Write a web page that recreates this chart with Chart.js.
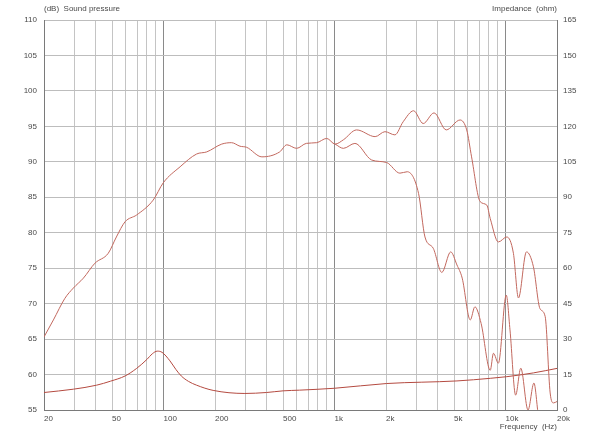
<!DOCTYPE html>
<html>
<head>
<meta charset="utf-8">
<script src="https://cdn.jsdelivr.net/npm/chart.js@4"></script>
<style>
  html, body { margin: 0; padding: 0; background: #fff; }
  #wrap { width: 600px; height: 433px; }
</style>
</head>
<body>
<div id="wrap"><canvas id="chart" width="600" height="433"></canvas></div>
<script>
// frequency ticks (grid) and the ones that get a label
const freqTicks = [20, 30, 40, 50, 60, 70, 80, 90, 100, 200, 300, 400, 500, 600, 700, 800, 900,
  1000, 2000, 3000, 4000, 5000, 6000, 7000, 8000, 9000, 10000, 20000];
const freqLabels = { 20: "20", 50: "50", 100: "100", 200: "200", 500: "500", 1000: "1k",
  2000: "2k", 5000: "5k", 10000: "10k", 20000: "20k" };
const decadeLines = [100, 1000, 10000];

// on-axis sound pressure (dB)
const freqA = [20, 22.7, 26.5, 29.7, 34, 39.7, 47.5, 53, 59.6, 69.6, 87, 99.7, 125, 156, 179, 219, 250,
  280, 306, 376, 478, 526, 600, 684, 786, 900, 1008, 1126, 1346, 1728, 1972, 2254, 2520, 2900, 3300,
  3820, 4500, 5420, 5930, 6330, 7100, 7770, 8140, 9080, 10180, 11120, 11900, 13260, 14560, 15900,
  17050, 18240, 19100, 20000];
const splA = [65.3, 67.7, 70.75, 72.2, 73.6, 75.7, 77.1, 79.4, 81.55, 82.5, 84.6, 87.05, 89.3, 91.1, 91.4,
  92.5, 92.7, 92.2, 92.05, 90.7, 91.4, 92.4, 91.9, 92.6, 92.7, 93.3, 92.5, 93.1, 94.5, 93.55, 94.25,
  93.8, 95.65, 97.2, 95.4, 96.9, 94.5, 95.9, 94.5, 90.7, 84.4, 83.9, 82.0, 78.7, 79.4, 77.1, 70.8,
  77.3, 75.2, 69.3, 68.2, 57.4, 56.0, 56.2];

// off-axis sound pressure (dB), splits from the on-axis curve near 1 kHz
const freqB = [1008, 1126, 1316, 1650, 2018, 2412, 2660, 3100, 3380, 3780, 4240, 4780, 5200, 5580,
  6220, 6620, 7200, 8140, 8500, 9080, 10100, 10620, 11460, 12280, 13540, 14660, 15500];
const splB = [92.5, 91.9, 92.6, 90.25, 89.9, 88.4, 88.6, 85.55, 79.4, 77.8, 74.4, 77.3, 75.45, 73.6,
  67.7, 69.55, 67.2, 60.6, 63.0, 61.6, 71.2, 66.3, 57.1, 60.9, 55.0, 58.8, 54.5];

// impedance (ohm)
const freqZ = [20, 29.7, 40.6, 49, 59.6, 69.6, 80, 86, 92, 98, 109, 118, 127, 140, 156, 195, 299, 400,
  500, 625, 1000, 2018, 5200, 8140, 10180, 14560, 20000];
const impZ = [7.4, 8.8, 10.5, 12.2, 14.4, 17.6, 21.4, 23.8, 24.9, 24.4, 20.8, 17.2, 14.4, 12.1, 10.5,
  8.3, 7.0, 7.4, 8.1, 8.4, 9.2, 11.2, 12.3, 13.4, 14.1, 15.7, 17.6];

const toPoints = (xs, ys) => xs.map((x, i) => ({ x: x, y: ys[i] }));

const textColor = "#4a4a4a";
const fontSpec = { family: "'Liberation Sans', Arial, sans-serif", size: 8 };

// corner captions
const captions = {
  id: "captions",
  afterDraw(chart) {
    const ctx = chart.ctx;
    const area = chart.chartArea;
    ctx.save();
    ctx.font = "8px 'Liberation Sans', Arial, sans-serif";
    ctx.fillStyle = textColor;
    ctx.textBaseline = "middle";
    ctx.textAlign = "left";
    ctx.fillText("(dB)  Sound pressure", area.left, 9);
    ctx.textAlign = "right";
    ctx.fillText("Impedance  (ohm)", area.right, 9);
    ctx.fillText("Frequency  (Hz)", area.right, 427);
    ctx.restore();
  }
};

new Chart(document.getElementById("chart"), {
  type: "scatter",
  data: {
    datasets: [
      {
        label: "SPL on axis",
        data: toPoints(freqA, splA),
        yAxisID: "y",
        showLine: true,
        borderColor: "rgb(194, 104, 94)",
        borderWidth: 1,
        pointRadius: 0,
        cubicInterpolationMode: "monotone",
      },
      {
        label: "SPL off axis",
        data: toPoints(freqB, splB),
        yAxisID: "y",
        showLine: true,
        borderColor: "rgb(194, 104, 94)",
        borderWidth: 1,
        pointRadius: 0,
        cubicInterpolationMode: "monotone",
      },
      {
        label: "Impedance",
        data: toPoints(freqZ, impZ),
        yAxisID: "y1",
        showLine: true,
        borderColor: "rgb(180, 74, 64)",
        borderWidth: 1,
        pointRadius: 0,
        cubicInterpolationMode: "monotone",
      },
    ],
  },
  options: {
    responsive: false,
    animation: false,
    devicePixelRatio: 1,
    layout: { padding: { top: 20, left: 0, right: 0, bottom: 0 } },
    plugins: {
      legend: { display: false },
      tooltip: { enabled: false },
    },
    scales: {
      x: {
        type: "logarithmic",
        min: 20,
        max: 20000,
        afterBuildTicks: (axis) => { axis.ticks = freqTicks.map((v) => ({ value: v })); },
        afterFit: (scale) => { scale.height = 23; },
        border: { color: "#7a7a7a" },
        grid: {
          drawTicks: false,
          color: (ctx) => (ctx.tick && decadeLines.includes(ctx.tick.value) ? "#8a8a8a" : "#c4c4c4"),
        },
        ticks: {
          autoSkip: false,
          maxRotation: 0,
          align: "start",
          padding: 4,
          color: textColor,
          font: fontSpec,
          callback: (v) => freqLabels[v] || "",
        },
      },
      y: {
        position: "left",
        min: 55,
        max: 110,
        afterFit: (scale) => { scale.width = 44; },
        border: { color: "#7a7a7a" },
        grid: { drawTicks: false, color: "#bdbdbd" },
        ticks: { stepSize: 5, padding: 7, color: textColor, font: fontSpec },
      },
      y1: {
        position: "right",
        min: 0,
        max: 165,
        afterFit: (scale) => { scale.width = 43; },
        border: { color: "#7a7a7a" },
        grid: { display: false, drawTicks: false },
        ticks: { stepSize: 15, padding: 6, color: textColor, font: fontSpec },
      },
    },
  },
  plugins: [captions],
});
</script>
</body>
</html>
